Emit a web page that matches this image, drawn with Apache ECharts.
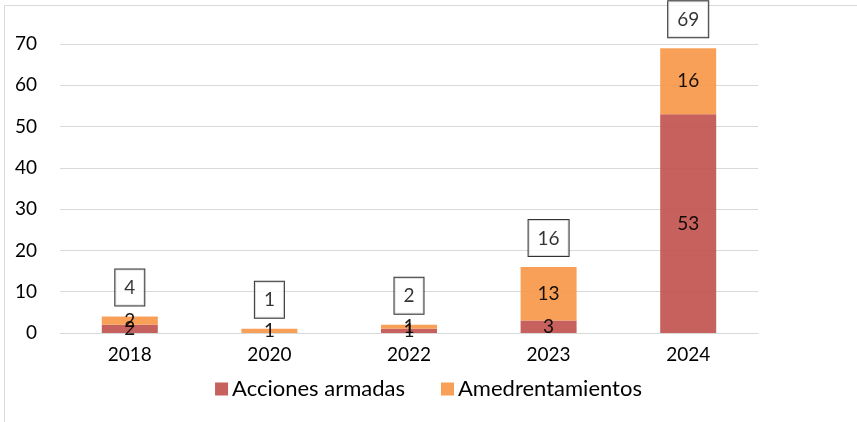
<!DOCTYPE html>
<html><head><meta charset="utf-8">
<script src="https://cdn.jsdelivr.net/npm/echarts@6/dist/echarts.min.js"></script>
<style>html,body{margin:0;padding:0;background:#fff}#c{width:857px;height:422px}</style>
</head><body><div id="c"></div>
<script>
const categories = ['2018','2020','2022','2023','2024'];
const accionesArmadas = [2, 0, 1, 3, 53];
const amedrentamientos = [2, 1, 1, 13, 16];
const totals = [4, 1, 2, 16, 69];
const yTicks = {min: 0, max: 70, interval: 10};

const FONT = 'Lato';
const chart = echarts.init(document.getElementById('c'), null, {renderer: 'canvas'});
const inner = {
  show: true, position: 'inside', color: '#000', fontFamily: FONT, fontSize: 19,
  formatter: p => (p.value ? String(p.value) : '')
};
chart.setOption({
  animation: false,
  backgroundColor: '#fff',
  graphic: [{type: 'rect', left: 2, top: 3, shape: {width: 854, height: 440},
    style: {fill: 'none', stroke: '#d9d9d9', lineWidth: 1}, silent: true}],
  grid: {left: 60, right: 99, top: 44, bottom: 89},
  legend: {
    data: ['Acciones armadas', 'Amedrentamientos'],
    left: 'center', top: 373, itemWidth: 13, itemHeight: 13, itemGap: 36,
    icon: 'rect',
    textStyle: {fontFamily: FONT, fontSize: 22, color: '#000', padding: [0, 0, 0, -1]}
  },
  xAxis: {
    type: 'category', data: categories,
    axisLine: {show: true, lineStyle: {color: '#d9d9d9', width: 1}},
    axisTick: {show: false},
    axisLabel: {color: '#000', fontFamily: FONT, fontSize: 19, margin: 12}
  },
  yAxis: {
    type: 'value', min: yTicks.min, max: yTicks.max, interval: yTicks.interval,
    axisLine: {show: false}, axisTick: {show: false},
    splitLine: {lineStyle: {color: '#d9d9d9', width: 1}},
    axisLabel: {color: '#000', fontFamily: FONT, fontSize: 19, margin: 23}
  },
  series: [
    {name: 'Acciones armadas', type: 'bar', stack: 'total', data: accionesArmadas,
     barWidth: 56, itemStyle: {color: '#C0504D', opacity: 0.9}, label: inner, z: 2},
    {name: 'Amedrentamientos', type: 'bar', stack: 'total', data: amedrentamientos,
     barWidth: 56, itemStyle: {color: '#F79646', opacity: 0.9}, label: inner, z: 2},
    {name: 'Total', type: 'scatter', data: totals, symbolSize: 0, z: 5,
     label: {show: true, position: 'top', distance: 11, color: '#000', fontFamily: FONT,
       fontSize: 19, borderColor: '#000', borderWidth: 1, padding: [9, 9, 8, 9],
       backgroundColor: '#fff', formatter: p => String(p.value)}}
  ]
});
</script></body></html>
